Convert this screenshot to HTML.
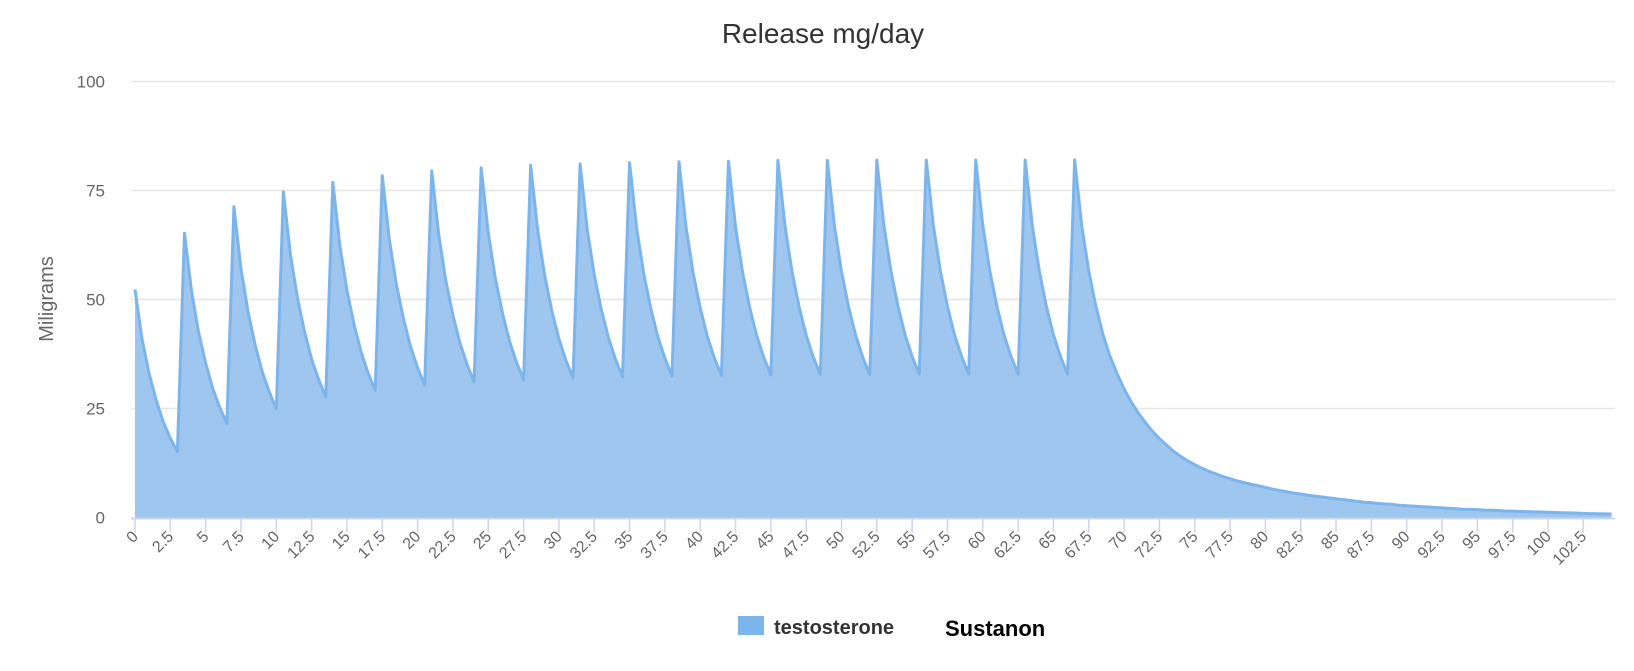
<!DOCTYPE html>
<html><head><meta charset="utf-8"><style>
html,body{margin:0;padding:0;background:#fff;}
svg{display:block;font-family:"Liberation Sans",sans-serif;}
</style></head><body>
<svg id="chart" width="1634" height="671" viewBox="0 0 1634 671">
<text x="823" y="43" text-anchor="middle" font-size="28" fill="#333">Release mg/day</text>
<text transform="translate(53,299) rotate(-90)" text-anchor="middle" font-size="20" fill="#666">Miligrams</text>
<g id="grid"></g>
<g id="ylabels"></g>
<g id="series"></g>
<g id="xaxis"></g>
<g>
<g>
<rect x="738" y="616" width="26" height="19" fill="#7cb5ec"/>
<text x="774" y="634" font-size="20" font-weight="bold" fill="#333">testosterone</text>
</g>
<text x="945" y="636" font-size="22" font-weight="bold" fill="#000">Sustanon</text>
</g>
</svg>
<script>
const step = 0.5;
const values = [
52.3,40.9,33.0,26.9,21.9,18.2,15.1,
65.2,51.9,42.5,35.4,29.6,25.2,21.6,
71.3,57.1,47.2,39.6,33.5,28.8,25.0,
74.7,60.3,50.3,42.6,36.3,31.6,27.7,
76.9,62.3,52.1,44.3,38.0,33.1,29.2,
78.4,63.7,53.4,45.6,39.2,34.3,30.4,
79.5,64.7,54.3,46.4,40.0,35.1,31.1,
80.2,65.3,54.9,47.0,40.5,35.6,31.6,
80.8,65.9,55.4,47.4,41.0,36.0,32.0,
81.1,66.2,55.7,47.7,41.3,36.3,32.3,
81.4,66.4,56.0,48.0,41.5,36.5,32.5,
81.6,66.6,56.1,48.1,41.6,36.6,32.6,
81.7,66.7,56.2,48.2,41.7,36.7,32.7,
81.9,66.9,56.4,48.3,41.8,36.8,32.8,
81.9,66.9,56.4,48.3,41.8,36.8,32.8,
82.0,67.0,56.5,48.4,41.9,36.9,32.9,
82.0,67.0,56.5,48.4,41.9,36.9,32.9,
82.0,67.0,56.5,48.4,41.9,36.9,32.9,
82.0,67.0,56.5,48.4,41.9,36.9,32.9,
82.0,67.0,56.5,48.5,42.0,37.0,33.0,29.5,26.5,24.0,21.8,19.8,18.1,16.6,15.2,14.0,
13.0,12.1,11.3,10.6,10.0,9.4,8.9,8.4,8.0,7.6,7.3,6.9,6.5,6.2,5.9,5.6,5.4,5.1,4.9,4.7,
4.5,4.3,4.1,3.9,3.7,3.5,3.4,3.2,3.1,3.0,2.8,2.7,2.6,2.5,2.4,2.3,2.2,2.1,2.0,1.9,
1.85,1.8,1.7,1.65,1.6,1.5,1.45,1.4,1.35,1.3,1.25,1.2,1.15,1.1,1.05,1.0,0.95,0.9,0.87,0.84,0.8
];
const yTicks = [0,25,50,75,100];
const xTickStep = 2.5;
const xTickMax = 102.5;

const NS = "http://www.w3.org/2000/svg";
const X0 = 135, PXU = 14.13, Y0 = 517.5, PYU = 4.36;
function xs(v){return X0 + v*PXU;}
function ys(v){return Y0 - v*PYU;}
function mk(tag, attrs, parent){const e=document.createElementNS(NS,tag);for(const k in attrs)e.setAttribute(k,attrs[k]);parent.appendChild(e);return e;}

const grid=document.getElementById('grid'), yl=document.getElementById('ylabels');
yTicks.forEach(t=>{
  if(t>0){const l=mk('line',{x1:131,x2:1615,y1:ys(t),y2:ys(t),stroke:'#e6e6e6','stroke-width':1.5},grid);
  
  }
  const tx=mk('text',{x:105,y:ys(t)+6,'text-anchor':'end','font-size':17,fill:'#666'},yl);
  tx.textContent=String(t);
  
  
});

const ser=document.getElementById('series');
let d='', pts=[];
values.forEach((v,i)=>{pts.push(xs(i*step).toFixed(2)+','+ys(v).toFixed(2));});
const area=mk('path',{d:'M'+xs(0)+','+Y0+' L'+pts.join(' L')+' L'+xs((values.length-1)*step)+','+Y0+' Z',fill:'#9ec6ef'},ser);


const line=mk('path',{d:'M'+pts.join(' L'),fill:'none',stroke:'#7cb5ec','stroke-width':3,'stroke-linejoin':'round'},ser);



const xa=document.getElementById('xaxis');
const ax=mk('line',{x1:131,x2:1615,y1:Y0+1,y2:Y0+1,stroke:'#ccd6eb','stroke-width':2},xa);


for(let t=0;t<=xTickMax+1e-9;t+=xTickStep){
  const x=xs(t);
  const tk=mk('line',{x1:x,x2:x,y1:Y0+1,y2:Y0+15,stroke:'#ccd6eb','stroke-width':1.5},xa);
  
  
  const lb=mk('text',{x:x+4,y:Y0+20,'text-anchor':'end','font-size':16,fill:'#666',transform:'rotate(-45 '+(x+4)+' '+(Y0+20)+')'},xa);
  lb.textContent=String(t);
  
  
}
</script>
</body></html>
